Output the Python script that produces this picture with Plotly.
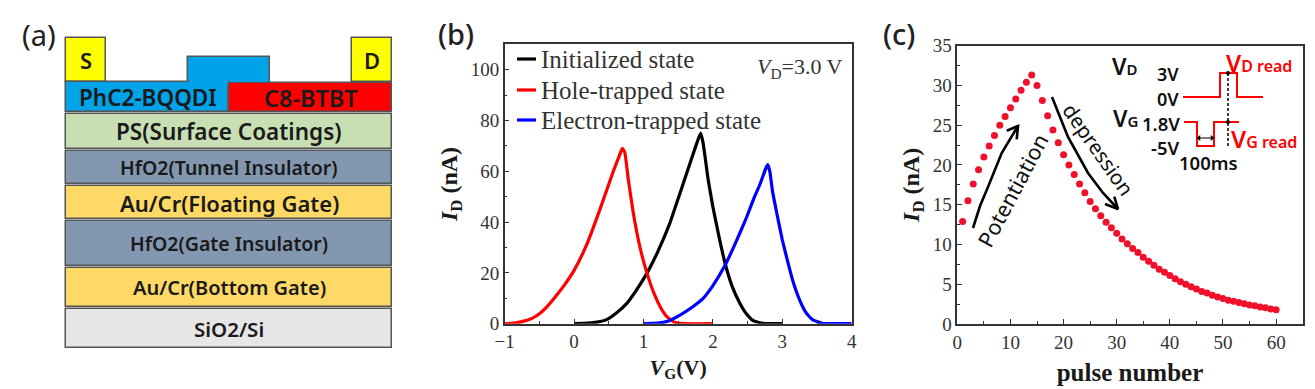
import plotly.graph_objects as go

W, H = 1315, 389
SERIF = "Liberation Serif"
SANS = "Noto Sans"

# Panel (a): device stack
layer_names = ["S", "D", "", "PhC2-BQQDI", "C8-BTBT", "PS(Surface Coatings)", "HfO2(Tunnel Insulator)",
               "Au/Cr(Floating Gate)", "HfO2(Gate Insulator)", "Au/Cr(Bottom Gate)", "SiO2/Si"]
layer_left = [66, 352, 188, 66, 229, 66, 66, 66, 66, 66, 66]
layer_right = [106, 392, 270, 229, 392, 392, 392, 392, 392, 392, 392]
layer_top = [38, 38, 57, 82, 83, 114, 151, 186, 221, 268, 309]
layer_bottom = [82, 82, 83, 112, 112, 149, 184, 219, 266, 307, 348]
layer_colors = ["#FFFF00", "#FFFF00", "#00A2E8", "#00A2E8", "#FF0000", "#C8DFB4", "#8497B0",
                "#FFD966", "#8497B0", "#FFD966", "#E7E6E6"]
layer_text_size = [22, 22, 1, 22.5, 23.5, 22.5, 19.5, 22, 19.5, 20, 20.5]
# The gate block and the blue layer read as one shape, so the line between them is hidden
join_left = [189, 230]
join_right = [228, 269]
join_top = [79, 79]
join_bottom = [85, 81.9]

# Panel (b): transfer curves
vg_init = [0, 0.2, 0.33, 0.47, 0.6, 0.76, 0.9, 1.05, 1.2, 1.38, 1.526, 1.68, 1.78, 1.824, 1.86, 1.93, 2.0, 2.09,
           2.175, 2.28, 2.39, 2.48, 2.58, 2.72, 2.85, 3.0]
id_init = [0, 0.2, 0.6, 1.6, 4, 8, 13.3, 19.9, 28, 39.6, 51.4, 64, 72, 75, 71, 57, 46, 34, 23.8, 14.5, 8, 4, 1.2, 0.1, 0, 0]
vg_hole = [-1, -0.9, -0.75, -0.6, -0.49, -0.37, -0.25, -0.13, 0, 0.18, 0.37, 0.565, 0.65, 0.695, 0.73, 0.78, 0.853,
           0.95, 1.05, 1.15, 1.24, 1.33, 1.43, 1.5, 1.6, 2.0]
id_hole = [0, 0.1, 0.8, 2.2, 4.1, 7.3, 11.3, 15.6, 21, 31, 44.8, 60, 66, 69, 67.5, 57, 43.6, 30, 19.9, 12, 6.7, 3, 0.8, 0.2, 0, 0]
vg_elec = [1.0, 1.2, 1.35, 1.526, 1.7, 1.86, 2.0, 2.175, 2.33, 2.487, 2.6, 2.68, 2.76, 2.79, 2.82, 2.86, 2.92, 3.0,
           3.06, 3.15, 3.25, 3.35, 3.44, 3.58, 3.7, 4.0]
id_elec = [0, 0.2, 1, 3.4, 6.5, 10, 15, 23, 32, 42, 50, 55, 61, 62.6, 60, 52, 43.6, 33, 26.4, 17, 9.3, 4, 1.5, 0.1, 0, 0]
legend_labels = ["Initialized state", "Hole-trapped state", "Electron-trapped state"]
legend_colors = ["#000000", "#FF0000", "#0000FF"]
legend_rows = [59, 90, 120]

# Panel (c): pulse response
pulse_number = list(range(1, 61))
pulse_current = [12.9, 15.5, 17.6, 19.4, 21.0, 22.4, 23.7, 25.0, 26.1, 27.2, 28.3, 29.4, 30.4, 31.3, 30.0,
                 28.1, 26.2, 24.4, 22.8, 21.3, 20.0, 18.8, 17.6, 16.5, 15.4, 14.5, 13.6, 12.8, 12.1, 11.4,
                 10.7, 10.1, 9.5, 9.0, 8.4, 7.9, 7.4, 6.9, 6.5, 6.1, 5.7, 5.3, 5.0, 4.7, 4.4,
                 4.1, 3.9, 3.6, 3.4, 3.2, 3.0, 2.85, 2.7, 2.55, 2.4, 2.3, 2.15, 2.05, 1.9, 1.8]

# Inset waveforms and arrows (figure pixel units of the overlay axes)
vd_wave_x = [1183, 1220, 1220, 1237, 1237, 1263]
vd_wave_y = [97, 97, 73, 73, 97, 97]
vg_wave_x = [1184, 1197, 1197, 1214, 1214, 1239]
vg_wave_y = [122, 122, 146, 146, 122, 122]
read_x = [1228, 1228]
read_y = [73, 147]
pot_x = [973, 980, 988, 1001.7, 1018]
pot_y = [228, 206, 187, 153, 126]
pot_head_x = [1006.7, 1018, 1016.7]
pot_head_y = [130.7, 126, 139.3]
dep_x = [1052, 1060, 1068, 1088, 1103, 1118]
dep_y = [97, 118, 137, 173, 193, 209]
dep_head_x = [1105, 1118, 1114.3]
dep_head_y = [204, 209, 196.7]
span_x = [1199, 1212]
span_y = [138, 138]

fig = go.Figure()

def add_block(left, right, top, bottom, color, border):
    fig.add_trace(go.Bar(
        x=[(left + right) / 2], y=[bottom - top], base=[top], width=[right - left],
        xaxis="x3", yaxis="y3", showlegend=False,
        marker=dict(color=color, line=dict(color="#555555", width=border))))

for i, name in enumerate(layer_names):
    add_block(layer_left[i], layer_right[i], layer_top[i], layer_bottom[i], layer_colors[i], 1.5)
    if name:
        fig.add_annotation(x=(layer_left[i] + layer_right[i]) / 2, y=(layer_top[i] + layer_bottom[i]) / 2,
                           xref="x3", yref="y3", text=name, showarrow=False,
                           font=dict(family=SANS, size=layer_text_size[i], color="#1a1a1a", weight=600))
for i in range(len(join_left)):
    add_block(join_left[i], join_right[i], join_top[i], join_bottom[i], "#00A2E8", 0)

# Panel (b)
for xs, ys, label, color in zip([vg_init, vg_hole, vg_elec], [id_init, id_hole, id_elec], legend_labels, legend_colors):
    fig.add_trace(go.Scatter(x=xs, y=ys, mode="lines", name=label, showlegend=False,
                             line=dict(color=color, width=3.2, shape="spline", smoothing=0.4), xaxis="x", yaxis="y"))

# Panel (c)
fig.add_trace(go.Scatter(x=pulse_number, y=pulse_current, mode="markers", showlegend=False,
                         marker=dict(color="#F0102A", size=7), xaxis="x2", yaxis="y2"))

def ov_line(xs, ys, color, width, dash="solid"):
    fig.add_trace(go.Scatter(x=xs, y=ys, mode="lines", showlegend=False, xaxis="x3", yaxis="y3",
                             line=dict(color=color, width=width, dash=dash)))

for row, color in zip(legend_rows, legend_colors):
    ov_line([517, 536], [row, row], color, 3.2)
ov_line(vd_wave_x, vd_wave_y, "#FF0000", 2)
ov_line(vg_wave_x, vg_wave_y, "#FF0000", 2)
ov_line(read_x, read_y, "#000000", 1.5, "3px,2px")
fig.add_trace(go.Scatter(x=[1228, 1228], y=[73, 122], mode="markers", showlegend=False, xaxis="x3", yaxis="y3",
                         marker=dict(color="#000000", size=4)))
ov_line(span_x, span_y, "#000000", 1)
fig.add_trace(go.Scatter(x=span_x, y=span_y, mode="markers", showlegend=False, xaxis="x3", yaxis="y3",
                         marker=dict(color="#000000", size=5, symbol=["triangle-left", "triangle-right"])))
ov_line(pot_x, pot_y, "#000000", 2.6)
ov_line(dep_x, dep_y, "#000000", 2.6)
ov_line(pot_head_x, pot_head_y, "#000000", 2.6)
ov_line(dep_head_x, dep_head_y, "#000000", 2.6)

AX = dict(showline=True, linecolor="#333333", linewidth=1.5, mirror=True, ticks="inside", ticklen=5,
          tickcolor="#333333", tickwidth=1.2, showgrid=False, zeroline=False, automargin=False,
          tickfont=dict(family=SERIF, size=19, color="#333333"))
MINOR = dict(ticks="inside", ticklen=3, tickcolor="#333333")

def px_x(a, b):
    return [a / W, b / W]

def px_y(top, bottom):
    return [1 - bottom / H, 1 - top / H]

def title_font(size):
    return dict(family=SERIF, size=size, color="#1a1a1a")

fig.update_layout(
    width=W, height=H, margin=dict(l=0, r=0, t=0, b=0), plot_bgcolor="rgba(0,0,0,0)", paper_bgcolor="white",
    barmode="overlay", bargap=0, showlegend=False,
    xaxis=dict(AX, domain=px_x(504.7, 851.7), range=[-1, 4], minor=dict(MINOR, dtick=0.5),
               tickvals=[-1, 0, 1, 2, 3, 4], ticktext=["\u22121", "0", "1", "2", "3", "4"],
               title=dict(text="<b><i>V</i><sub>G</sub>(V)</b>", font=title_font(22), standoff=8), anchor="y"),
    yaxis=dict(AX, domain=px_y(44.3, 323.7), range=[0, 110], dtick=20, minor=dict(MINOR, dtick=10),
               title=dict(text="<b><i>I</i><sub>D</sub> (nA)</b>", font=title_font(24), standoff=6), anchor="x"),
    xaxis2=dict(AX, domain=px_x(957.3, 1302.7), range=[0, 65], dtick=10, minor=dict(MINOR, dtick=5),
                title=dict(text="<b>pulse number</b>", font=title_font(25), standoff=12), anchor="y2"),
    yaxis2=dict(AX, domain=px_y(45.7, 324), range=[0, 35], dtick=5, minor=dict(MINOR, dtick=2.5),
                title=dict(text="<b><i>I</i><sub>D</sub> (nA)</b>", font=title_font(24), standoff=6), anchor="x2"),
    xaxis3=dict(domain=[0, 1], range=[0, W], visible=False, anchor="y3", fixedrange=True),
    yaxis3=dict(domain=[0, 1], range=[H, 0], visible=False, anchor="x3", fixedrange=True),
)

def note(x, y, text, size, color="#111111", family=SANS, angle=0, weight=None, xanchor="center"):
    font = dict(family=family, size=size, color=color)
    if weight:
        font["weight"] = weight
    fig.add_annotation(x=x, y=y, xref="x3", yref="y3", text=text, showarrow=False, textangle=angle, font=font, xanchor=xanchor)

note(39, 34, "(a)", 29, "#222222")
note(456, 33, "(b)", 29, "#222222", weight=500)
note(899, 33, "(c)", 29, "#222222", weight=500)
for label, row in zip(legend_labels, legend_rows):
    note(539, row, label, 25, "#333333", SERIF, xanchor="left")
note(800, 68, "<i>V</i><sub>D</sub>=3.0 V", 22, "#333333", SERIF)
note(1012, 190, "Potentiation", 21.5, "#111111", SANS, -62)
note(1098.5, 148.5, "depression", 20.5, "#111111", SANS, 55)
note(1125, 66, "V<span style='font-size:15px'>D</span>", 23, weight=600)
note(1125, 118, "V<span style='font-size:15px'>G</span>", 23, weight=600)
note(1168, 74, "3V", 18, weight=600)
note(1168, 99, "0V", 18, weight=600)
note(1161, 123, "1.8V", 18.5, weight=600)
note(1165, 147, "-5V", 18.5, weight=600)
note(1208, 162, "100ms", 18.5, weight=600)
note(1259, 62, "V<span style='font-size:16px'>D read</span>", 24, "#FF0000", weight=600)
note(1264, 138, "V<span style='font-size:16px'>G read</span>", 24, "#FF0000", weight=600)

fig.write_html("out.html", config=dict(displayModeBar=False),
               post_script="document.body.style.margin='0';document.documentElement.style.overflow='hidden';")
